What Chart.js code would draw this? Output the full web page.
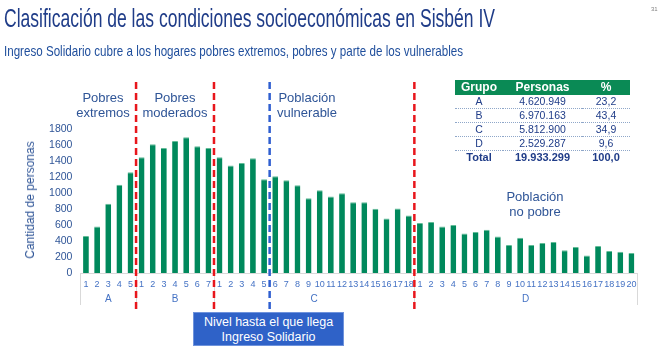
<!DOCTYPE html>
<html>
<head>
<meta charset="utf-8">
<script src="https://cdn.jsdelivr.net/npm/chart.js@4.4.1/dist/chart.umd.min.js"></script>
<style>
  html,body{margin:0;padding:0;background:#fff;}
  body{width:665px;height:355px;position:relative;overflow:hidden;font-family:"Liberation Sans",Arial,sans-serif;}
  #c{position:absolute;left:0;top:0;}
  .abs{position:absolute;white-space:nowrap;}
  #title{left:4px;top:3px;font-size:25px;color:#1F3C88;transform-origin:0 0;line-height:30px;}
  #subtitle{left:4px;top:42px;font-size:14.5px;color:#1F4E9C;transform-origin:0 0;line-height:18px;}
  .ann{font-size:13px;color:#2F5597;text-align:center;line-height:15px;transform:translateX(-50%);}
  #ytitle{font-size:12px;color:#2F5597;left:30px;top:200px;transform:translate(-50%,-50%) rotate(-90deg);}
  #box{left:193px;top:312px;width:151px;height:34px;background:#2F62C8;color:#fff;font-size:12.5px;text-align:center;line-height:15px;box-sizing:border-box;padding-top:2px;border:1px solid #6f93dc;}
  #tbl{position:absolute;left:455px;top:80px;border-collapse:collapse;font-size:10.5px;color:#1F3C88;}
  #tbl th{background:#0A8A55;color:#fff;font-size:12px;font-weight:bold;height:15px;padding:0;line-height:15px;}
  #tbl td{padding:0;height:13px;line-height:13px;text-align:center;border-bottom:1px dotted #8FA7C9;}
  #tbl tr.tot td{font-weight:bold;border-bottom:none;font-size:11px;}
  #pg{left:651px;top:6px;font-size:6px;color:#7f7f7f;}
</style>
</head>
<body>
<canvas id="c" width="665" height="355"></canvas>
<div id="title" class="abs">Clasificación de las condiciones socioeconómicas en Sisbén IV</div>
<div id="subtitle" class="abs">Ingreso Solidario cubre a los hogares pobres extremos, pobres y parte de los vulnerables</div>
<div id="pg" class="abs">31</div>
<div class="abs ann" style="left:103px;top:90px;">Pobres<br>extremos</div>
<div class="abs ann" style="left:175px;top:90px;">Pobres<br>moderados</div>
<div class="abs ann" style="left:307px;top:90px;">Población<br>vulnerable</div>
<div class="abs ann" style="left:535px;top:189px;">Población<br>no pobre</div>
<div id="ytitle" class="abs">Cantidad de personas</div>
<div id="box" class="abs">Nivel hasta el que llega<br>Ingreso Solidario</div>
<table id="tbl">
  <colgroup><col style="width:48px"><col style="width:79px"><col style="width:48px"></colgroup>
  <tr><th>Grupo</th><th>Personas</th><th>%</th></tr>
  <tr><td>A</td><td>4.620.949</td><td>23,2</td></tr>
  <tr><td>B</td><td>6.970.163</td><td>43,4</td></tr>
  <tr><td>C</td><td>5.812.900</td><td>34,9</td></tr>
  <tr><td>D</td><td>2.529.287</td><td>9,6</td></tr>
  <tr class="tot"><td>Total</td><td>19.933.299</td><td>100,0</td></tr>
</table>
<script>
// ---- data ----
const groups = ['A', 'B', 'C', 'D'];
const valuesA = [461, 582, 865, 1102, 1260];
const valuesB = [1447, 1609, 1563, 1650, 1696, 1584, 1563];
const valuesC = [1447, 1343, 1376, 1434, 1172, 1210, 1160, 1097, 935, 1035, 956, 998, 885, 885, 802, 682, 806, 719];
const valuesD = [624, 636, 582, 599, 495, 511, 541, 457, 349, 441, 349, 374, 387, 283, 324, 220, 337, 274, 266, 249];
const yTicks = [0, 200, 400, 600, 800, 1000, 1200, 1400, 1600, 1800];

const groupValues = [valuesA, valuesB, valuesC, valuesD];
const labels = [];
const values = [];
groupValues.forEach(arr => arr.forEach((v, i) => { labels.push(String(i + 1)); values.push(v); }));

// dividing lines: [index where new segment begins, colour]
const dividers = [[5, '#E8161C'], [12, '#E8161C'], [17, '#2F5FD0'], [30, '#E8161C']];

// fit title widths (narrow font in original)
function fitWidth(id, target) {
  const el = document.getElementById(id);
  const w = el.getBoundingClientRect().width;
  el.style.transform = 'scaleX(' + (target / w) + ')';
}
fitWidth('title', 491);
fitWidth('subtitle', 459);

const overlay = {
  id: 'overlay',
  afterDraw(chart) {
    const ctx = chart.ctx, x = chart.scales.x, area = chart.chartArea;
    const step = x.getPixelForValue(1) - x.getPixelForValue(0);
    const boundary = i => (i <= 0) ? x.getPixelForValue(0) - step / 2
      : (i >= labels.length) ? x.getPixelForValue(labels.length - 1) + step / 2
      : (x.getPixelForValue(i - 1) + x.getPixelForValue(i)) / 2;
    ctx.save();
    let start = 0;
    ctx.strokeStyle = '#D9D9D9';
    ctx.lineWidth = 1;
    ctx.font = '10px "Liberation Sans", Arial, sans-serif';
    ctx.fillStyle = '#4472C4';
    ctx.textAlign = 'center';
    ctx.textBaseline = 'middle';
    const bounds = [0];
    groupValues.forEach(a => { start += a.length; bounds.push(start); });
    bounds.forEach(b => {
      const px = Math.round(boundary(b)) + 0.5;
      ctx.beginPath(); ctx.moveTo(px, area.bottom); ctx.lineTo(px, area.bottom + 32); ctx.stroke();
    });
    for (let g = 0; g < groups.length; g++) {
      const cx = (boundary(bounds[g]) + boundary(bounds[g + 1])) / 2;
      ctx.fillText(groups[g], cx, area.bottom + 26);
    }
    ctx.lineWidth = 2.5;
    ctx.setLineDash([7, 4]);
    dividers.forEach(([i, col]) => {
      const px = boundary(i);
      ctx.strokeStyle = col;
      ctx.beginPath(); ctx.moveTo(px, 82); ctx.lineTo(px, 311); ctx.stroke();
    });
    ctx.restore();
  }
};

new Chart(document.getElementById('c'), {
  type: 'bar',
  data: {
    labels: labels,
    datasets: [{
      data: values,
      backgroundColor: '#00895C',
      borderColor: '#63BC98',
      borderWidth: {top: 1, left: 0, right: 0, bottom: 0},
      categoryPercentage: 1,
      barPercentage: 0.52
    }]
  },
  options: {
    responsive: false,
    animation: false,
    devicePixelRatio: 1,
    layout: { padding: { top: 129, right: 28, bottom: 0, left: 0 } },
    plugins: { legend: { display: false }, tooltip: { enabled: false }, title: { display: false } },
    scales: {
      x: {
        grid: { display: false, drawTicks: false },
        border: { display: true, color: '#D9D9D9', width: 1 },
        ticks: { autoSkip: false, maxRotation: 0, minRotation: 0, padding: 6, color: '#4472C4',
                 font: { size: 9, family: '"Liberation Sans", Arial, sans-serif' } },
        afterFit: s => { s.height = 82; }
      },
      y: {
        min: 0, max: 1800,
        afterBuildTicks: s => { s.ticks = yTicks.map(v => ({ value: v })); },
        grid: { display: false, drawTicks: false },
        border: { display: false },
        ticks: { padding: 8, color: '#2F5597', font: { size: 10.5, family: '"Liberation Sans", Arial, sans-serif' },
                 callback: v => String(v) },
        afterFit: s => { s.width = 80.4; }
      }
    }
  },
  plugins: [overlay]
});
</script>
</body>
</html>
